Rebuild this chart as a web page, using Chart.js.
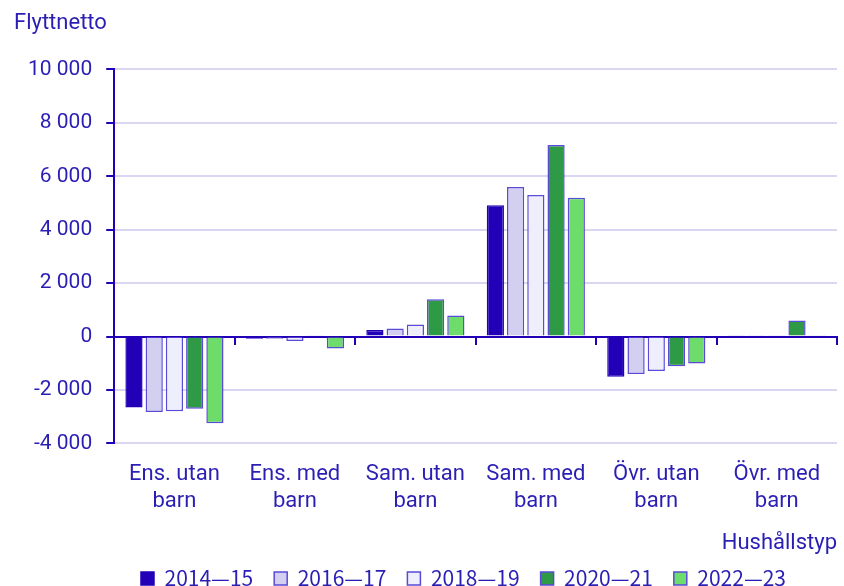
<!DOCTYPE html>
<html>
<head>
<meta charset="utf-8">
<script src="https://cdn.jsdelivr.net/npm/chart.js@4"></script>
<style>
  body { margin: 0; background: #fff; }
  #wrap { width: 844px; height: 586px; }
</style>
</head>
<body>
<div id="wrap"><canvas id="myChart"></canvas></div>
<script>
const categories = [['Ens. utan', 'barn'], ['Ens. med', 'barn'], ['Sam. utan', 'barn'], ['Sam. med', 'barn'], ['Övr. utan', 'barn'], ['Övr. med', 'barn']];
const periods = ['2014—15', '2016—17', '2018—19', '2020—21', '2022—23'];
const v2014 = [-2650, -80, 250, 4920, -1500, 50];
const v2016 = [-2820, -80, 300, 5600, -1400, 50];
const v2018 = [-2790, -160, 450, 5300, -1290, 50];
const v2020 = [-2700, 50, 1400, 7170, -1110, 600];
const v2022 = [-3240, -450, 790, 5200, -1010, 50];
const yTicks = [-4000, -2000, 0, 2000, 4000, 6000, 8000, 10000];

const ink = '#2a1eb4';
const axisBlue = '#2200b8';
const fills = ['#2200b8', '#d3cff0', '#eeeefc', '#2e9a45', '#6ddc6a'];
const series = [v2014, v2016, v2018, v2020, v2022];

// the legend in the original sits a bit right of the canvas centre
const shiftLegend = {
  id: 'shiftLegend',
  afterLayout(chart) {
    chart.legend.left += 76;
  }
};

const ctx = document.getElementById('myChart');

new Chart(ctx, {
  type: 'bar',
  data: {
    labels: categories,
    datasets: periods.map((p, i) => ({
      label: p,
      data: series[i],
      backgroundColor: fills[i],
      borderColor: i === 0 ? axisBlue : '#5a4ad8',
      borderWidth: 1.5,
      barPercentage: 0.85,
      categoryPercentage: 0.84
    }))
  },
  options: {
    responsive: true,
    maintainAspectRatio: false,
    animation: false,
    layout: { padding: { left: 14, right: 7, top: 2, bottom: -13 } },
    plugins: {
      title: {
        display: true,
        text: 'Flyttnetto',
        align: 'start',
        color: ink,
        font: { family: 'Roboto', size: 22, weight: 'normal' },
        padding: { top: 8, bottom: 33 }
      },
      legend: {
        position: 'bottom',
        labels: {
          color: ink,
          font: { family: 'Noto Sans CJK JP', size: 21 },
          boxWidth: 13,
          boxHeight: 13,
          padding: 21
        }
      },
      tooltip: { enabled: false }
    },
    scales: {
      x: {
        grid: { display: false },
        border: { display: false },
        ticks: {
          color: ink,
          font: { family: 'Roboto', size: 22, lineHeight: 1.23 },
          maxRotation: 0,
          padding: 9
        },
        title: {
          display: true,
          text: 'Hushållstyp',
          align: 'end',
          color: ink,
          font: { family: 'Roboto', size: 22 },
          padding: { top: 7, bottom: -10 }
        }
      },
      x2: {
        type: 'category',
        labels: categories,
        position: { y: 0 },
        offset: true,
        ticks: { display: false },
        grid: {
          display: true,
          offset: true,
          drawOnChartArea: false,
          drawTicks: true,
          tickLength: 7,
          color: axisBlue,
          lineWidth: 2
        },
        border: { display: true, color: axisBlue, width: 2 }
      },
      y: {
        min: -4000,
        max: 10000,
        afterBuildTicks: (scale) => { scale.ticks = yTicks.map(v => ({ value: v })); },
        grid: {
          color: '#d8d6f0',
          lineWidth: 2,
          tickColor: axisBlue,
          tickLength: 8
        },
        border: { display: true, color: axisBlue, width: 2 },
        ticks: {
          color: ink,
          font: { family: 'Roboto', size: 21 },
          padding: 14,
          callback: (v) => (v < 0 ? '-' : '') + Math.abs(v).toString().replace(/\B(?=(\d{3})+(?!\d))/g, ' ')
        }
      }
    }
  },
  plugins: [shiftLegend]
});
</script>
</body>
</html>
